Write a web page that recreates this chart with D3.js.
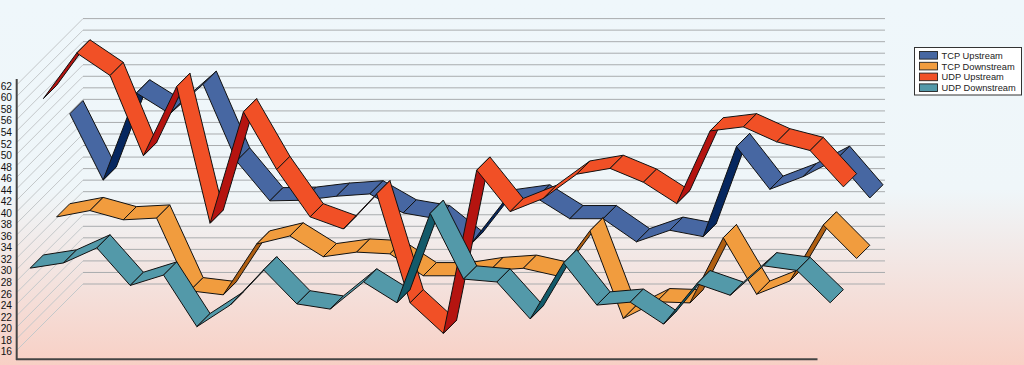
<!DOCTYPE html>
<html><head><meta charset="utf-8">
<script src="https://d3js.org/d3.v7.min.js"></script>
<style>html,body{margin:0;padding:0;background:#fff}svg{display:block}</style></head>
<body><svg id="c" width="1024" height="365"></svg>
<script>
const yTicks = [16,18,20,22,24,26,28,30,32,34,36,38,40,42,44,46,48,50,52,54,56,58,60,62];
const legendLabels = ["TCP Upstream","TCP Downstream","UDP Upstream","UDP Downstream"];
const tcpUp = [47.8,36.3,51.4,47.8,52.9,39.6,32.7,32.8,33.5,33.9,30.6,29.6,25.0,32.4,33.2,29.6,29.6,25.6,27.6,26.5,42.1,34.7,36.9,39.9,33.2];
const tcpDown = [32.2,33.3,31.7,32.0,19.4,18.7,27.5,28.9,25.3,26.1,25.8,22.0,22.0,22.9,23.3,22.0,29.8,14.6,17.5,17.3,28.6,18.8,21.1,30.8,25.0];
const udpUp = [55.0,62.9,59.0,45.1,57.1,33.4,52.7,42.7,34.5,32.4,38.5,19.6,14.3,42.6,35.4,37.7,41.9,42.9,40.5,36.8,49.4,50.1,47.5,46.0,39.7];
const udpDown = [27.9,28.8,31.4,24.9,26.7,17.75,21.5,27.6,21.7,20.8,25.5,21.9,37.4,26.0,25.5,19.1,28.8,21.5,22.0,18.2,25.2,23.2,28.3,27.5,21.9];
const seriesValues = [tcpUp,tcpDown,udpUp,udpDown];
const depthSlots = [4,3,2,1];
const faceColors = ["#4767a2","#f19c3e","#f15026","#5399a9"];
const underColors = ["#06275f","#b05f12","#b51410","#135a6a"];

const svg = d3.select("#c");
const defs = svg.append("defs");
const grad = defs.append("linearGradient").attr("id","bg").attr("x1",0).attr("x2",0).attr("y1",0).attr("y2",1);
grad.append("stop").attr("offset","0%").attr("stop-color","#eff7fb");
grad.append("stop").attr("offset","52%").attr("stop-color","#eff6f9");
grad.append("stop").attr("offset","100%").attr("stop-color","#f8d0c5");
svg.append("rect").attr("width",1024).attr("height",365).attr("fill","url(#bg)");

const x = d3.scaleLinear().domain([0,24]).range([17,817]);
const y = d3.scaleLinear().domain([16,62]).range([350,84.6]);
const slot = 13.2, depth = slot*5;

const grid = svg.append("g");
grid.selectAll("line.d").data(yTicks).join("line").attr("class","d")
  .attr("x1",x(0)).attr("y1",d=>y(d)).attr("x2",x(0)+depth).attr("y2",d=>y(d)-depth)
  .attr("stroke","#c4c8ca").attr("stroke-width",1);
grid.selectAll("line.h").data(yTicks).join("line").attr("class","h")
  .attr("x1",x(0)+depth).attr("y1",d=>y(d)-depth).attr("x2",885).attr("y2",d=>y(d)-depth)
  .attr("stroke","#a9acae").attr("stroke-width",1);

seriesValues.forEach((vals,si)=>{
  const k = depthSlots[si];
  const g = svg.append("g");
  const px = i=>x(i)+k*slot, py = v=>y(v)-k*slot;
  d3.pairs(vals.map((v,i)=>[px(i),py(v)])).forEach(([a,b])=>{
    const d = slot;
    const under = (b[1]-a[1]) < -(b[0]-a[0]);
    g.append("path")
      .attr("d",d3.line()([a,b,[b[0]+d,b[1]-d],[a[0]+d,a[1]-d]])+"Z")
      .attr("fill",under?underColors[si]:faceColors[si])
      .attr("stroke","#111").attr("stroke-width",1).attr("stroke-linejoin","round");
  });
});

const ax = svg.append("g").attr("transform","translate(17,1.5)")
  .call(d3.axisLeft(y).tickValues(yTicks).tickSize(0).tickPadding(5));
ax.select(".domain").remove();
ax.selectAll("text").attr("font-family","'Liberation Sans',Arial,sans-serif").attr("font-size",10.2).attr("fill","#111");
svg.append("line").attr("x1",16.7).attr("x2",16.7).attr("y1",79).attr("y2",360).attr("stroke","#444").attr("stroke-width",2);
svg.append("line").attr("x1",16).attr("x2",817.5).attr("y1",359.3).attr("y2",359.3).attr("stroke","#444").attr("stroke-width",2);

const leg = svg.append("g");
leg.append("rect").attr("x",914.5).attr("y",47.5).attr("width",107).attr("height",47.5).attr("fill","#fff").attr("stroke","#333").attr("stroke-width",1);
legendLabels.forEach((t,i)=>{
  const yy = 55.3+i*10.8;
  leg.append("rect").attr("x",919.5).attr("y",yy-3.8).attr("width",18).attr("height",7.6)
    .attr("fill",faceColors[i]).attr("stroke","#222").attr("stroke-width",0.9);
  leg.append("text").attr("x",941.5).attr("y",yy+3.4).text(t)
    .attr("font-family","'Liberation Sans',Arial,sans-serif").attr("font-size",9.3).attr("fill","#222");
});
</script></body></html>
